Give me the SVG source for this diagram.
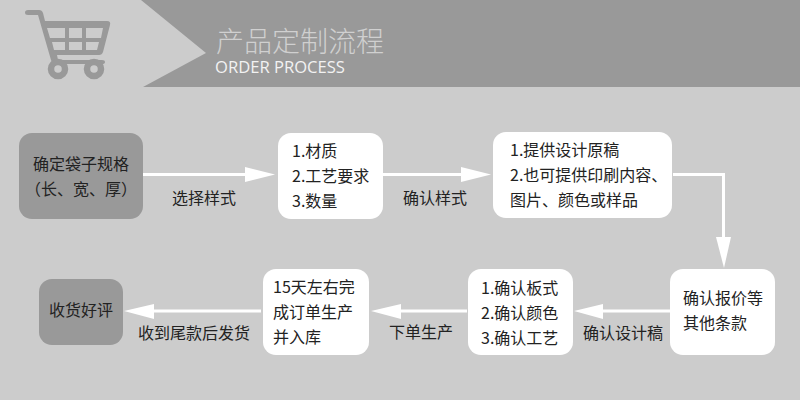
<svg xmlns="http://www.w3.org/2000/svg" width="800" height="400" viewBox="0 0 800 400">
<style>
text{font-family:"Noto Sans CJK SC","Liberation Sans",sans-serif;font-size:16px;fill:#222}
.w{fill:#fff}.g{fill:#999}
.c{fill:none;stroke:#fff;stroke-width:3}
.h{fill:#fff;stroke:none}
</style>
<rect width="800" height="400" fill="#ccc"/>
<g id="header">
<polygon points="141,0 800,0 800,87 143,87 206,53" fill="#999"/>
<text x="216" y="52" style="font-size:28px;font-weight:300;fill:#d0d0d0">产品定制流程</text>
<text x="215" y="73" style="font-family:'Open Sans','Noto Sans',sans-serif;font-size:16.600px;fill:#f2f2f2">ORDER PROCESS</text>
</g>
<g id="cart" fill="#999">
<path d="M28 10H39Q42 10 43 13L45 21H107Q111 21 110 25L103 52Q102 55 99 55H57L58 60H102Q105 60 105 62Q105 64 102 64H56Q52 64 51 60L38 15H28Q25 15 25 12.500Q25 10 28 10Z"/>
<path d="M47 28L50 38H65V28ZM69 28V38H82V28ZM86 28V38H101L103 28ZM52 42L54 50H65V42ZM69 42V50H82V42ZM86 42V50H97L99 42Z" fill="#ccc"/>
<circle cx="58" cy="69" r="7" fill="none" stroke="#999" stroke-width="6.500"/>
<circle cx="94" cy="69" r="7" fill="none" stroke="#999" stroke-width="6.500"/>
</g>
<g id="connectors">
<path class="c" d="M143 174.500H246"/><polygon class="h" points="245,167 245,182 275,174.500"/>
<path class="c" d="M383 174.500H462"/><polygon class="h" points="461,167 461,182 491,174.500"/>
<path class="c" d="M673 174.500H723.500V240"/><polygon class="h" points="716,237 731,237 724,268"/>
<path class="c" d="M670 311H602"/><polygon class="h" points="603,304 603,319 574,311"/>
<path class="c" d="M467 311H400"/><polygon class="h" points="401,304 401,319 371,311"/>
<path class="c" d="M261 311H153"/><polygon class="h" points="154,304 154,319 124,311"/>
</g>
<g id="n1"><rect class="g" x="19" y="133" width="124" height="86" rx="13"/>
<text x="33" y="170">确定袋子规格</text><text x="25" y="195">（长、宽、厚）</text></g>
<g id="n2"><rect class="w" x="278" y="133" width="105" height="86" rx="13"/>
<text x="292" y="157">1.材质</text><text x="292" y="182">2.工艺要求</text><text x="292" y="207">3.数量</text></g>
<g id="n3"><rect class="w" x="493" y="132" width="179" height="86" rx="13"/>
<text x="510" y="156">1.提供设计原稿</text><text x="510" y="181">2.也可提供印刷内容、</text><text x="510" y="206">图片、颜色或样品</text></g>
<g id="n4"><rect class="w" x="670" y="269" width="105" height="86" rx="13"/>
<text x="683" y="304">确认报价等</text><text x="683" y="329">其他条款</text></g>
<g id="n5"><rect class="w" x="468" y="269" width="105" height="86" rx="13"/>
<text x="481" y="294">1.确认板式</text><text x="481" y="319">2.确认颜色</text><text x="481" y="344">3.确认工艺</text></g>
<g id="n6"><rect class="w" x="263" y="269" width="106" height="86" rx="13"/>
<text x="273" y="293">15天左右完</text><text x="273" y="318">成订单生产</text><text x="273" y="343">并入库</text></g>
<g id="n7"><rect class="g" x="39" y="279" width="84" height="66" rx="13"/>
<text x="49" y="316">收货好评</text></g>
<g id="labels">
<text x="172" y="204">选择样式</text><text x="403" y="204">确认样式</text>
<text x="583" y="339">确认设计稿</text><text x="389" y="338">下单生产</text><text x="138" y="339">收到尾款后发货</text>
</g>
</svg>
